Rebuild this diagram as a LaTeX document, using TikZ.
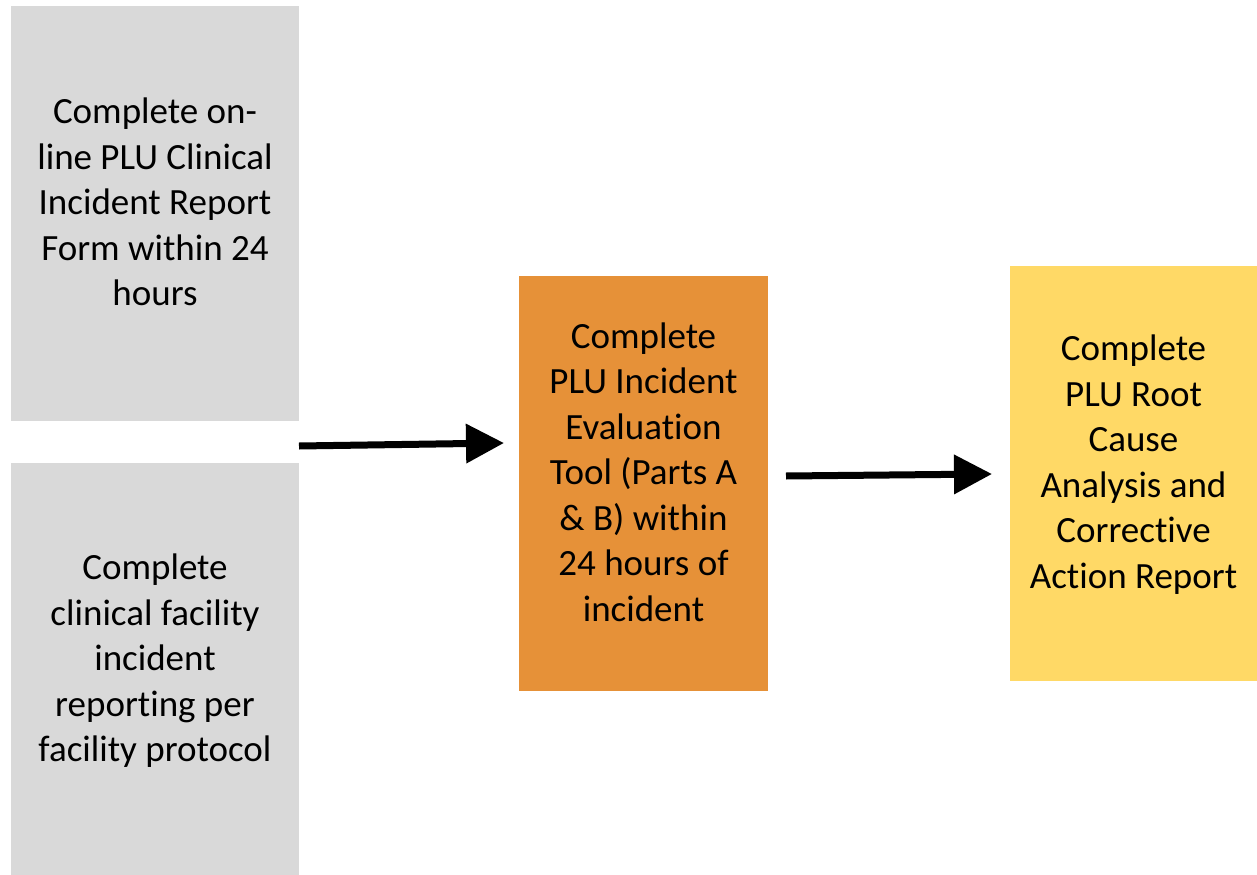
\documentclass[tikz,border=0pt]{standalone}
\usepackage{fontspec}
\setmainfont{Carlito}[RawFeature=-liga]
\usetikzlibrary{arrows.meta}
\definecolor{stepgray}{HTML}{D9D9D9}
\definecolor{steporange}{HTML}{E69138}
\definecolor{stepyellow}{HTML}{FFD966}
\tikzset{
  caption/.style={align=center, inner sep=0pt,
    font=\fontsize{37bp}{45.5bp}\selectfont},
  flow/.style={line width=7bp, -{Triangle[length=38bp,width=38bp]}}
}
\begin{document}
\begin{tikzpicture}[x=1bp,y=-1bp]
\useasboundingbox (0,0) rectangle (1257,875);

% filled step boxes
\fill[stepgray]   (11,6)    rectangle (299,421);
\fill[stepgray]   (11,463)  rectangle (299,875);
\fill[steporange] (519,276) rectangle (768,691);
\fill[stepyellow] (1010,266) rectangle (1257,681);

% step texts
\node[caption] (g1) at (155,205.5) {\strut Complete on-\\line PLU Clinical\\Incident Report\\Form within 24\\hours\strut};
\node[caption] (g2) at (155,661.5) {\strut Complete\\clinical facility\\incident\\reporting per\\facility protocol\strut};
\node[caption] (ev) at (643.5,475.5) {\strut Complete\\PLU Incident\\Evaluation\\Tool (Parts A\\\& B) within\\24 hours of\\incident\strut};
\node[caption] (rc) at (1133.5,465.5) {\strut Complete\\PLU Root\\Cause\\Analysis and\\Corrective\\Action Report\strut};

% connectors
\coordinate (a1s) at (299,446);
\coordinate (a1e) at (504,443);
\coordinate (a2s) at (786,476);
\coordinate (a2e) at (992,474);
\draw[flow] (a1s) -- (a1e);
\draw[flow] (a2s) -- (a2e);
\end{tikzpicture}
\end{document}
